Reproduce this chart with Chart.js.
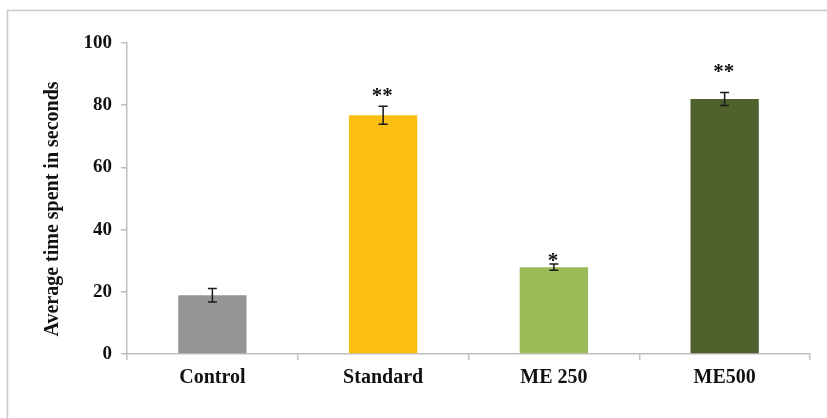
<!DOCTYPE html>
<html>
<head>
<meta charset="utf-8">
<script src="https://cdn.jsdelivr.net/npm/chart.js@4.4.1/dist/chart.umd.min.js"></script>
<style>
  html, body { margin: 0; padding: 0; background: #fff; }
  #wrap { width: 827px; height: 418px; position: relative; }
</style>
</head>
<body>
<div id="wrap"><canvas id="c" width="827" height="418"></canvas></div>
<script>
// Groups and their mean times (seconds) with standard errors
const groups = ['Control', 'Standard', 'ME 250', 'ME500'];
const meanTime = [18.9, 76.8, 27.9, 82.0];
const stdError = [2.2, 2.9, 1.0, 2.1];
const significance = ['', '**', '*', '**'];
const yTicks = [0, 20, 40, 60, 80, 100];
const yTitle = 'Average time spent in seconds';

const barColors = ['#959595', '#FBBF14', '#9BBB59', '#4F612D'];
const axisGrey = '#BFBFBF';
const serif = '"Liberation Serif", "Times New Roman", serif';

// Outer frame of the figure (top and left edges only) and the y-axis title
const framePlugin = {
  id: 'frame',
  beforeDraw(chart) {
    const ctx = chart.ctx;
    ctx.save();
    ctx.strokeStyle = '#C8C8C8';
    ctx.lineWidth = 1.5;
    ctx.beginPath();
    ctx.moveTo(7.5, chart.height);
    ctx.lineTo(7.5, 10.5);
    ctx.lineTo(chart.width, 10.5);
    ctx.stroke();
    ctx.restore();
  },
  afterDraw(chart) {
    const ctx = chart.ctx;
    ctx.save();
    ctx.translate(53, 209);
    ctx.rotate(-Math.PI / 2);
    ctx.fillStyle = '#111';
    ctx.font = 'bold 20px ' + serif;
    ctx.textAlign = 'center';
    ctx.textBaseline = 'middle';
    ctx.fillText(yTitle, 0, 0);
    ctx.restore();
  }
};

// Error bars and significance markers drawn through the scales
const errorBarPlugin = {
  id: 'errorBars',
  afterDatasetsDraw(chart, args, opts) {
    const ctx = chart.ctx;
    const y = chart.scales.y;
    const meta = chart.getDatasetMeta(0);
    ctx.save();
    meta.data.forEach((bar, i) => {
      const x = bar.x;
      const hi = y.getPixelForValue(meanTime[i] + stdError[i]);
      const lo = y.getPixelForValue(meanTime[i] - stdError[i]);
      ctx.strokeStyle = '#1a1a1a';
      ctx.lineWidth = 1.5;
      ctx.beginPath();
      ctx.moveTo(x, hi); ctx.lineTo(x, lo);
      ctx.moveTo(x - 4.5, hi); ctx.lineTo(x + 4.5, hi);
      ctx.moveTo(x - 4.5, lo); ctx.lineTo(x + 4.5, lo);
      ctx.stroke();
      if (significance[i]) {
        ctx.fillStyle = '#111';
        ctx.font = 'bold 21px ' + serif;
        ctx.textAlign = 'center';
        ctx.textBaseline = 'alphabetic';
        ctx.fillText(significance[i], x - 1, hi - opts.gaps[i] + 10);
      }
    });
    ctx.restore();
  }
};

new Chart(document.getElementById('c'), {
  type: 'bar',
  data: {
    labels: groups,
    datasets: [{
      data: meanTime,
      backgroundColor: barColors,
      borderWidth: 0,
      categoryPercentage: 1.0,
      barPercentage: 0.4
    }]
  },
  options: {
    responsive: false,
    animation: false,
    events: [],
    layout: { padding: { left: 0, right: 17, top: 43, bottom: 0 } },
    plugins: {
      legend: { display: false },
      tooltip: { enabled: false },
      errorBars: { gaps: [0, 14, 7, 24] }
    },
    scales: {
      x: {
        offset: true,
        grid: {
          offset: true,
          drawOnChartArea: false,
          drawTicks: true,
          tickLength: 6,
          color: axisGrey,
          lineWidth: 1.5
        },
        border: { color: axisGrey, width: 1.5 },
        ticks: {
          color: '#111',
          padding: 6,
          font: { family: serif, size: 20, weight: 'bold' }
        },
        afterFit(scale) { scale.height = 64; }
      },
      y: {
        min: 0,
        max: 100,
        afterBuildTicks(scale) { scale.ticks = yTicks.map(v => ({ value: v })); },
        grid: {
          drawOnChartArea: false,
          drawTicks: true,
          tickLength: 6,
          color: axisGrey,
          lineWidth: 1.5
        },
        border: { color: axisGrey, width: 1.5 },
        ticks: {
          color: '#111',
          padding: 9,
          font: { family: serif, size: 19, weight: 'bold' }
        },
        afterFit(scale) { scale.width = 127; }
      }
    }
  },
  plugins: [framePlugin, errorBarPlugin]
});
</script>
</body>
</html>
